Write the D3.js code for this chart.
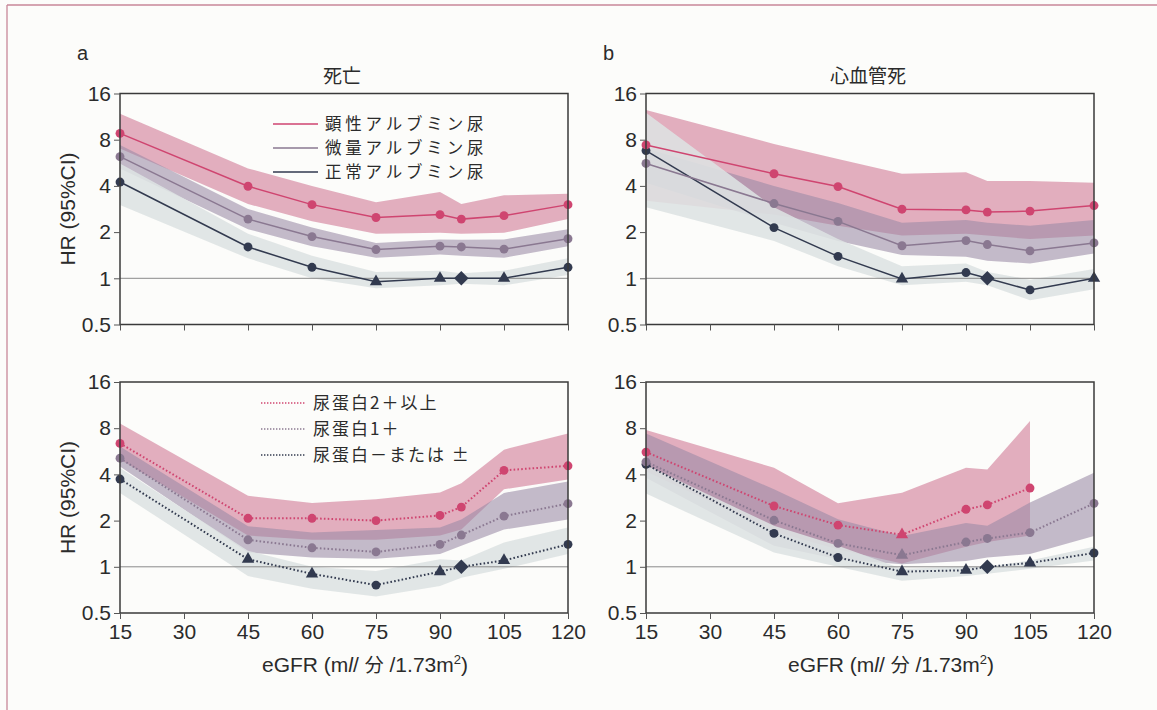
<!DOCTYPE html>
<html>
<head>
<meta charset="utf-8">
<script src="https://cdn.jsdelivr.net/npm/d3@7"></script>
<style>
  body { margin: 0; background: #fcfcfa; }
  svg text { font-family: "Liberation Sans", Arial, "Noto Sans CJK JP", sans-serif; fill: #2b2b2b; }
  .jp { font-family: "Noto Sans CJK JP", sans-serif; }
</style>
</head>
<body>
<script>
// eGFR points (95 = reference, diamond)
const egfr = [15, 45, 60, 75, 90, 95, 105, 120]
const xTicks = [15, 30, 45, 60, 75, 90, 105, 120]
const yTicks = [0.5, 1, 2, 4, 8, 16]

// a: 死亡 x アルブミン尿
const aMacro   = [8.8, 3.98, 3.02, 2.49, 2.60, 2.43, 2.56, 3.02]
const aMacroLo = [7.0, 3.05, 2.35, 1.95, 1.98, 1.95, 1.98, 2.43]
const aMacroHi = [11.8, 5.2, 4.0, 3.13, 3.65, 3.05, 3.47, 3.56]
const aMicro   = [6.2, 2.43, 1.87, 1.54, 1.62, 1.60, 1.55, 1.81]
const aMicroLo = [5.2, 2.09, 1.62, 1.36, 1.43, 1.40, 1.36, 1.62]
const aMicroHi = [7.4, 2.83, 2.14, 1.70, 1.79, 1.78, 1.79, 2.09]
const aNormal   = [4.24, 1.60, 1.18, 0.95, 1.0, 1.0, 1.0, 1.18]
const aNormalLo = [3.0, 1.35, 1.0, 0.86, 0.9, 0.92, 0.9, 1.05]
const aNormalHi = [5.6, 1.95, 1.4, 1.1, 1.12, 1.08, 1.12, 1.35]
const aNormalSym = ['c', 'c', 'c', 't', 't', 'd', 't', 'c']

// b: 心血管死 x アルブミン尿
const bMacro   = [7.4, 4.8, 3.96, 2.82, 2.79, 2.70, 2.74, 2.98]
const bMacroLo = [3.2, 2.6, 2.2, 1.9, 1.95, 1.9, 1.8, 1.9]
const bMacroHi = [12.5, 7.5, 6.0, 4.8, 4.9, 4.3, 4.3, 4.2]
const bMicro   = [5.6, 3.07, 2.35, 1.63, 1.76, 1.66, 1.51, 1.70]
const bMicroLo = [4.2, 2.3, 1.75, 1.42, 1.38, 1.3, 1.25, 1.45]
const bMicroHi = [7.0, 4.0, 3.1, 2.3, 2.4, 2.3, 2.2, 2.4]
const bNormal   = [6.8, 2.14, 1.39, 0.99, 1.09, 1.0, 0.84, 1.0]
const bNormalLo = [2.9, 1.75, 1.2, 0.9, 0.95, 0.9, 0.72, 0.85]
const bNormalHi = [12.0, 2.9, 1.8, 1.2, 1.25, 1.1, 0.98, 1.15]
const bNormalSym = ['c', 'c', 'c', 't', 'c', 'd', 'c', 't']

// c: 死亡 x 尿蛋白
const cProt2   = [6.37, 2.07, 2.07, 2.0, 2.16, 2.45, 4.25, 4.55]
const cProt2Lo = [5.0, 1.6, 1.5, 1.5, 1.6, 1.75, 3.2, 3.7]
const cProt2Hi = [8.6, 2.9, 2.6, 2.75, 3.05, 3.5, 5.8, 7.4]
const cProt1   = [5.1, 1.50, 1.33, 1.25, 1.40, 1.61, 2.14, 2.58]
const cProt1Lo = [4.5, 1.24, 1.15, 1.13, 1.21, 1.37, 1.75, 2.03]
const cProt1Hi = [6.07, 1.84, 1.67, 1.74, 1.8, 2.03, 3.03, 3.6]
const cNeg   = [3.73, 1.12, 0.90, 0.76, 0.93, 1.0, 1.10, 1.40]
const cNegLo = [3.03, 0.87, 0.72, 0.64, 0.75, 0.85, 0.97, 1.21]
const cNegHi = [4.4, 1.27, 1.0, 0.94, 1.12, 1.1, 1.44, 1.80]
const cNegSym = ['c', 't', 't', 'c', 't', 'd', 't', 'c']

// d: 心血管死 x 尿蛋白 (2+ ends at 105)
const dProt2X  = [15, 45, 60, 75, 90, 95, 105]
const dProt2   = [5.59, 2.49, 1.87, 1.62, 2.37, 2.53, 3.26]
const dProt2Lo = [4.2, 1.7, 1.3, 1.05, 1.35, 1.45, 1.6]
const dProt2Hi = [7.8, 4.42, 2.59, 3.04, 4.42, 4.3, 8.9]
const dProt2Sym = ['c', 'c', 'c', 't', 'c', 'c', 'c']
const dProt1   = [4.83, 2.01, 1.42, 1.19, 1.45, 1.53, 1.67, 2.59]
const dProt1Lo = [3.8, 1.37, 1.12, 1.04, 1.09, 1.15, 1.21, 1.59]
const dProt1Hi = [7.4, 3.2, 2.04, 1.59, 1.93, 1.85, 2.62, 4.1]
const dProt1Sym = ['c', 'c', 'c', 't', 'c', 'c', 'c', 'c']
const dNeg   = [4.65, 1.65, 1.15, 0.93, 0.95, 1.0, 1.06, 1.23]
const dNegLo = [3.0, 1.24, 1.0, 0.81, 0.87, 0.9, 0.97, 1.1]
const dNegHi = [4.6, 1.85, 1.37, 0.97, 1.0, 1.0, 1.1, 1.35]
const dNegSym = ['c', 'c', 'c', 't', 't', 'd', 't', 'c']

const albLabels = ['顕性アルブミン尿', '微量アルブミン尿', '正常アルブミン尿']
const protLabels = ['尿蛋白2＋以上', '尿蛋白1＋', '尿蛋白－または ±']

var pink = { line: '#cf4570', band: '#dc9cb1', bandOp: 0.82 }
var purple = { line: '#8a7891', band: '#9a8aa6', bandOp: 0.58 }
var navy = { line: '#323a4f', band: '#dde3e2', bandOp: 0.88 }

var width = 1157, height = 710
var pw = 448, ph = 231

var svg = d3.select('body').append('svg')
  .attr('width', width)
  .attr('height', height)

// scanned page frame
svg.append('line').attr('x1', 7).attr('x2', width).attr('y1', 5).attr('y2', 5)
  .attr('stroke', '#c88799').attr('stroke-width', 1.3)
svg.append('line').attr('x1', 7).attr('x2', 7).attr('y1', 5).attr('y2', height)
  .attr('stroke', '#c88799').attr('stroke-width', 1.3)

var panels = [
  { id: 'a', left: 120, top: 93.5, title: '死亡', dotted: false, xLabels: false, hr: true, legend: albLabels, legendX: 273, legendY: [124, 148, 172], legendFont: 16.5, legendSpacing: 3.8,
    series: [
      { c: pink, x: egfr, v: aMacro, lo: aMacroLo, hi: aMacroHi },
      { c: purple, x: egfr, v: aMicro, lo: aMicroLo, hi: aMicroHi },
      { c: navy, x: egfr, v: aNormal, lo: aNormalLo, hi: aNormalHi, sym: aNormalSym }
    ] },
  { id: 'b', left: 646, top: 93.5, title: '心血管死', dotted: false, xLabels: false, hr: false,
    series: [
      { c: pink, x: egfr, v: bMacro, lo: bMacroLo, hi: bMacroHi },
      { c: purple, x: egfr, v: bMicro, lo: bMicroLo, hi: bMicroHi },
      { c: navy, x: egfr, v: bNormal, lo: bNormalLo, hi: bNormalHi, sym: bNormalSym }
    ] },
  { id: 'c', left: 120, top: 382, dotted: true, xLabels: true, hr: true, legend: protLabels, legendX: 261, legendY: [403, 429, 455], legendFont: 17, legendSpacing: 2,
    series: [
      { c: pink, x: egfr, v: cProt2, lo: cProt2Lo, hi: cProt2Hi },
      { c: purple, x: egfr, v: cProt1, lo: cProt1Lo, hi: cProt1Hi },
      { c: navy, x: egfr, v: cNeg, lo: cNegLo, hi: cNegHi, sym: cNegSym }
    ] },
  { id: 'd', left: 646, top: 382, dotted: true, xLabels: true, hr: false,
    series: [
      { c: pink, x: dProt2X, v: dProt2, lo: dProt2Lo, hi: dProt2Hi, sym: dProt2Sym },
      { c: purple, x: egfr, v: dProt1, lo: dProt1Lo, hi: dProt1Hi, sym: dProt1Sym },
      { c: navy, x: egfr, v: dNeg, lo: dNegLo, hi: dNegHi, sym: dNegSym }
    ] }
]

// diamond = square turned 45deg, so it is as wide as it is tall
var symTypes = { c: d3.symbolCircle, t: d3.symbolTriangle, d: d3.symbolSquare }
var symSizes = { c: 62, t: 66, d: 105 }

var xScale = d3.scaleLinear().domain([15, 120]).range([0, pw])
var yScale = d3.scaleLog().base(2).domain([0.5, 16]).range([ph, 0])

panels.forEach(function(p, pi) {
  var g = svg.append('g').attr('transform', 'translate(' + p.left + ',' + p.top + ')')

  g.append('clipPath').attr('id', 'clip' + pi)
    .append('rect').attr('width', pw).attr('height', ph)

  var plot = g.append('g').attr('clip-path', 'url(#clip' + pi + ')')

  // bands: macro, micro, then the light normal band on top
  var area = d3.area()
    .x(function(d) { return xScale(d.x) })
    .y0(function(d) { return yScale(d.lo) })
    .y1(function(d) { return yScale(d.hi) })

  p.series.forEach(function(s) {
    var rows = s.x.map(function(xv, i) { return { x: xv, lo: s.lo[i], hi: s.hi[i] } })
    plot.append('path')
      .attr('d', area(rows))
      .attr('fill', s.c.band)
      .attr('fill-opacity', s.c.bandOp)
  })

  // HR = 1 reference line
  plot.append('line')
    .attr('x1', 0).attr('x2', pw)
    .attr('y1', yScale(1)).attr('y2', yScale(1))
    .attr('stroke', '#8a8a8a').attr('stroke-width', 1)

  var line = d3.line()
    .x(function(d) { return xScale(d.x) })
    .y(function(d) { return yScale(d.v) })

  p.series.slice().reverse().forEach(function(s) {
    var rows = s.x.map(function(xv, i) { return { x: xv, v: s.v[i], sym: s.sym ? s.sym[i] : 'c' } })
    g.append('path')
      .attr('d', line(rows))
      .attr('fill', 'none')
      .attr('stroke', s.c.line)
      .attr('stroke-width', p.dotted ? 2 : 1.5)
      .attr('stroke-dasharray', p.dotted ? '1.6,2.2' : null)

    g.selectAll(null)
      .data(rows)
      .enter()
        .append('path')
        .attr('d', function(d) { return d3.symbol().type(symTypes[d.sym]).size(symSizes[d.sym])() })
        .attr('transform', function(d) {
          return 'translate(' + xScale(d.x) + ',' + yScale(d.v) + ')' + (d.sym == 'd' ? ' rotate(45)' : '')
        })
        .attr('fill', s.c.line)
  })

  // frame
  g.append('rect')
    .attr('width', pw).attr('height', ph)
    .attr('fill', 'none')
    .attr('stroke', '#3a3a3a')
    .attr('stroke-width', 1.5)

  var yAxis = d3.axisLeft(yScale)
    .tickValues(yTicks)
    .tickFormat(function(d) { return d })
    .tickSize(6)
    .tickPadding(3)

  var xAxis = d3.axisBottom(xScale)
    .tickValues(xTicks)
    .tickSize(6)
    .tickPadding(5)
  if (!p.xLabels) xAxis.tickFormat('')

  var vGuide = g.append('g').call(yAxis)
  var hGuide = g.append('g').attr('transform', 'translate(0,' + ph + ')').call(xAxis)

  ;[vGuide, hGuide].forEach(function(ax) {
    ax.select('.domain').remove()
    ax.selectAll('line').attr('stroke', '#555').attr('stroke-width', 1)
    ax.selectAll('text').attr('font-size', 21).attr('fill', '#2b2b2b')
      .attr('font-family', '"Liberation Sans", Arial, sans-serif')
  })

  if (p.title) {
    svg.append('text')
      .attr('class', 'jp')
      .attr('x', p.left + pw / 2 - 2)
      .attr('y', 83)
      .attr('text-anchor', 'middle')
      .attr('font-size', 19)
      .text(p.title)
    svg.append('text')
      .attr('x', p.left - 43)
      .attr('y', 60)
      .attr('font-size', 20)
      .text(p.id)
  }

  if (p.hr) {
    svg.append('text')
      .attr('transform', 'translate(' + 75 + ',' + (p.top + ph / 2) + ') rotate(-90)')
      .attr('text-anchor', 'middle')
      .attr('font-size', 21)
      .text('HR (95%CI)')
  }

  if (p.xLabels) {
    var t = svg.append('text')
      .attr('x', p.left + pw / 2 + 21)
      .attr('y', 672)
      .attr('text-anchor', 'middle')
      .attr('font-size', 21)
    t.append('tspan').text('eGFR (m')
    t.append('tspan').attr('font-style', 'italic').text('l')
    t.append('tspan').text('/ ')
    t.append('tspan').attr('class', 'jp').attr('font-size', 19).text('分')
    t.append('tspan').text(' /1.73m')
    t.append('tspan').attr('font-size', 13).attr('dy', -8).text('2')
    t.append('tspan').attr('dy', 8).text(')')
  }

  if (p.legend) {
    var lg = svg.append('g')
    p.legend.forEach(function(label, i) {
      var s = p.series[i]
      lg.append('line')
        .attr('x1', p.legendX).attr('x2', p.legendX + 45)
        .attr('y1', p.legendY[i]).attr('y2', p.legendY[i])
        .attr('stroke', s.c.line)
        .attr('stroke-width', p.dotted ? 1.6 : 1.3)
        .attr('stroke-dasharray', p.dotted ? '1.4,1.6' : null)
      lg.append('text')
        .attr('class', 'jp')
        .attr('x', p.legendX + 52)
        .attr('y', p.legendY[i])
        .attr('dy', '0.36em')
        .attr('font-size', p.legendFont)
        .attr('letter-spacing', p.legendSpacing)
        .text(label)
    })
  }
})
</script>
</body>
</html>
